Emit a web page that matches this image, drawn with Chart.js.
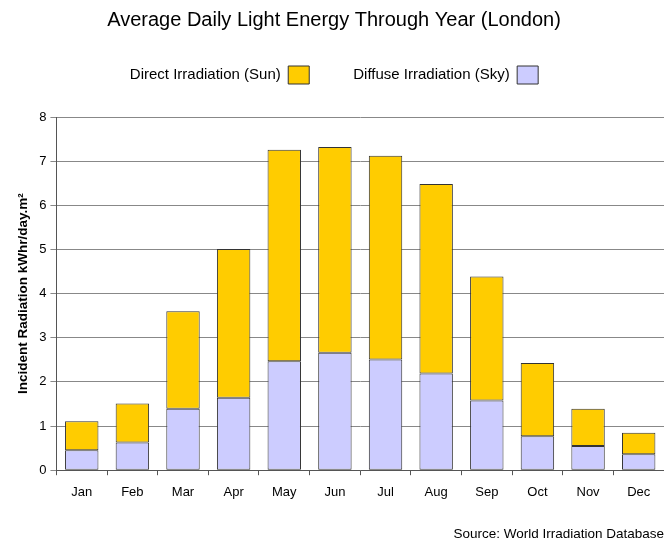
<!DOCTYPE html>
<html>
<head>
<meta charset="utf-8">
<script src="https://cdn.jsdelivr.net/npm/chart.js@4"></script>
<style>
  body { margin: 0; background: #fff; }
  #wrap { width: 664px; height: 540px; }
</style>
</head>
<body>
<div id="wrap"><canvas id="chart"></canvas></div>
<script>
// datos (kWhr/day.m2)
const meses = ["Jan", "Feb", "Mar", "Apr", "May", "Jun", "Jul", "Aug", "Sep", "Oct", "Nov", "Dec"];
const difusa = [0.45, 0.63, 1.39, 1.64, 2.47, 2.66, 2.51, 2.19, 1.58, 0.77, 0.55, 0.36];
const directa = [0.66, 0.88, 2.21, 3.37, 4.79, 4.66, 4.61, 4.29, 2.81, 1.66, 0.84, 0.49];

const fuente = "Liberation Sans, Arial, sans-serif";

// espacio extra debajo de la leyenda
const margenLeyenda = {
  id: "margenLeyenda",
  beforeInit(chart) {
    const fitOriginal = chart.legend.fit;
    chart.legend.fit = function () {
      fitOriginal.bind(chart.legend)();
      this.height += 23;
    };
  },
};

new Chart(document.getElementById("chart"), {
  type: "bar",
  data: {
    labels: meses,
    datasets: [
      {
        label: "Diffuse Irradiation (Sky)",
        data: difusa,
        backgroundColor: "#ccccff",
        borderColor: "#333333",
        borderWidth: 1,
        borderSkipped: false,
      },
      {
        label: "Direct Irradiation (Sun)",
        data: directa,
        backgroundColor: "#ffcc00",
        borderColor: "#333333",
        borderWidth: 1,
        borderSkipped: false,
      },
    ],
  },
  options: {
    responsive: true,
    maintainAspectRatio: false,
    animation: false,
    layout: { padding: { left: 4, right: 0, top: 6, bottom: 0 } },
    datasets: { bar: { categoryPercentage: 1, barPercentage: 0.66 } },
    scales: {
      x: {
        stacked: true,
        grid: { display: true, drawOnChartArea: false, offset: true, color: "#555", tickLength: 5 },
        border: { color: "#555" },
        ticks: { color: "#000", font: { family: fuente, size: 13 }, padding: 9 },
      },
      y: {
        stacked: true,
        min: 0,
        max: 8,
        ticks: { stepSize: 1, color: "#000", font: { family: fuente, size: 13 }, padding: 4 },
        grid: { color: "#888", tickLength: 6 },
        border: { color: "#555" },
        title: {
          display: true,
          text: "Incident Radiation kWhr/day.m²",
          color: "#000",
          font: { family: fuente, size: 13.5, weight: "bold" },
          padding: { top: 11, bottom: 4 },
        },
      },
    },
    plugins: {
      title: {
        display: true,
        text: "Average Daily Light Energy Through Year (London)",
        color: "#000",
        font: { family: fuente, size: 20, weight: "normal" },
        padding: { top: 2, bottom: -10 },
      },
      subtitle: {
        display: true,
        position: "bottom",
        align: "end",
        text: "Source: World Irradiation Database",
        color: "#000",
        font: { family: fuente, size: 13.5, weight: "normal" },
        padding: { top: 17, bottom: -2 },
      },
      legend: {
        rtl: true,
        textDirection: "ltr",
        labels: {
          color: "#000",
          font: { family: fuente, size: 15 },
          boxWidth: 21,
          boxHeight: 18,
          padding: 44,
        },
      },
      tooltip: { enabled: false },
    },
  },
  plugins: [margenLeyenda],
});
</script>
</body>
</html>
